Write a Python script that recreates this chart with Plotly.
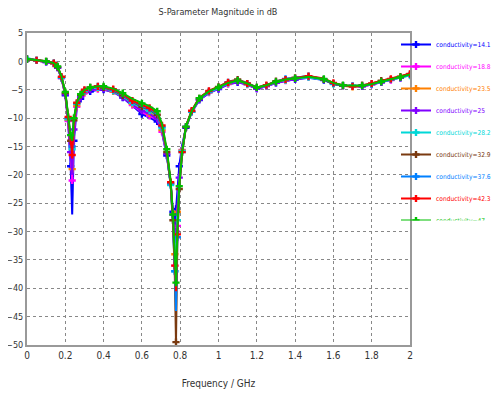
import plotly.graph_objects as go

freq = [0, 0.05, 0.1, 0.14, 0.16, 0.18, 0.2, 0.215, 0.228, 0.236, 0.245, 0.26, 0.28, 0.3,
        0.33, 0.37, 0.4, 0.45, 0.5, 0.55, 0.6, 0.64, 0.68, 0.705, 0.73, 0.75, 0.762, 0.772,
        0.778, 0.785, 0.795, 0.81, 0.83, 0.86, 0.9, 0.95, 1.0, 1.05, 1.1, 1.15, 1.2, 1.25,
        1.3, 1.35, 1.4, 1.47, 1.55, 1.6, 1.65, 1.7, 1.75, 1.8, 1.85, 1.9, 1.95, 2.0]

s_14_1 = [0.4,0.2,-0.1,-0.4,-1.1,-3.0,-6.0,-10.8,-18.5,-27.0,-14.0,-8.2,-6.6,-5.8,-5.3,-5.0,-5.0,-5.4,-6.4,-7.8,-9.3,-9.9,-10.6,-12.6,-16.6,-21.5,-26.5,-29.0,-26.0,-22.0,-18.5,-14.8,-11.7,-9.0,-6.8,-5.6,-4.9,-4.1,-3.7,-4.1,-4.8,-4.4,-3.8,-3.4,-3.2,-2.9,-3.3,-3.9,-4.3,-4.4,-4.4,-4.1,-3.7,-3.3,-2.9,-2.4]
s_18_8 = [0.4,0.2,-0.1,-0.4,-1.1,-3.0,-5.9,-10.5,-17.0,-21.0,-12.6,-8.0,-6.4,-5.6,-5.1,-4.9,-4.9,-5.3,-6.3,-7.7,-9.0,-9.6,-10.3,-12.4,-16.4,-21.4,-28.0,-36.0,-40.0,-29.0,-21.0,-15.6,-11.6,-8.9,-6.7,-5.5,-4.8,-4.0,-3.6,-4.1,-4.8,-4.4,-3.8,-3.4,-3.1,-2.8,-3.2,-3.9,-4.3,-4.4,-4.4,-4.1,-3.7,-3.3,-2.9,-2.4]
s_23_5 = [0.4,0.2,-0.1,-0.4,-1.1,-2.9,-5.8,-10.3,-15.5,-19.0,-11.6,-7.8,-6.2,-5.4,-4.9,-4.7,-4.8,-5.3,-6.2,-7.5,-8.6,-9.2,-10.0,-12.1,-16.2,-21.6,-27.5,-34.0,-31.0,-26.5,-21.0,-15.7,-11.5,-8.9,-6.6,-5.4,-4.7,-3.9,-3.5,-4.0,-4.7,-4.3,-3.7,-3.3,-3.0,-2.7,-3.1,-3.9,-4.3,-4.5,-4.4,-4.0,-3.6,-3.2,-2.8,-2.3]
s_25 = [0.4,0.2,-0.1,-0.4,-1.1,-2.9,-5.8,-10.4,-16.0,-20.0,-12.0,-7.9,-6.3,-5.5,-5.0,-4.8,-4.8,-5.3,-6.3,-7.6,-8.7,-9.3,-10.1,-12.2,-16.3,-21.6,-27.0,-32.0,-30.0,-26.0,-20.5,-15.5,-11.5,-8.9,-6.7,-5.5,-4.8,-4.0,-3.6,-4.1,-4.8,-4.4,-3.8,-3.4,-3.1,-2.8,-3.2,-3.9,-4.3,-4.4,-4.4,-4.1,-3.7,-3.3,-2.9,-2.4]
s_28_2 = [0.6,0.2,0.0,-0.3,-1.1,-2.9,-5.7,-10.2,-14.2,-15.5,-10.6,-7.5,-6.0,-5.2,-4.7,-4.6,-4.7,-5.2,-6.2,-7.3,-8.2,-8.7,-9.6,-11.8,-16.2,-21.8,-28.5,-37.0,-33.0,-28.0,-21.5,-15.8,-11.4,-8.9,-6.6,-5.4,-4.7,-3.8,-3.4,-4.0,-4.7,-4.3,-3.7,-3.3,-3.0,-2.8,-3.3,-4.0,-4.3,-4.4,-4.3,-4.0,-3.6,-3.2,-2.8,-2.5]
s_32_9 = [0.4,0.2,0.0,-0.3,-1.0,-2.8,-5.6,-10.0,-14.0,-15.0,-10.4,-7.4,-5.9,-5.1,-4.6,-4.4,-4.6,-5.1,-6.0,-7.1,-8.0,-8.5,-9.4,-11.6,-16.0,-21.5,-28.0,-38.0,-49.5,-32.0,-22.5,-16.2,-11.6,-8.8,-6.5,-5.2,-4.5,-3.6,-3.2,-3.8,-4.6,-4.2,-3.5,-3.1,-2.9,-2.6,-3.2,-4.0,-4.3,-4.4,-4.2,-3.9,-3.4,-3.1,-2.7,-2.1]
s_37_6 = [0.5,0.2,0.0,-0.3,-1.0,-2.8,-5.6,-10.0,-14.0,-15.0,-10.3,-7.4,-5.9,-5.1,-4.6,-4.4,-4.5,-5.0,-5.9,-7.0,-7.9,-8.4,-9.3,-11.5,-16.0,-21.5,-28.0,-37.0,-44.0,-31.0,-22.0,-16.0,-11.5,-8.8,-6.5,-5.3,-4.6,-3.7,-3.3,-3.9,-4.6,-4.3,-3.6,-3.1,-2.9,-2.6,-3.1,-3.9,-4.3,-4.3,-4.3,-4.0,-3.6,-3.2,-2.8,-2.3]
s_42_3 = [0.4,0.2,0.0,-0.3,-1.0,-2.7,-5.5,-9.8,-14.0,-16.5,-10.5,-7.3,-5.8,-5.0,-4.5,-4.4,-4.5,-4.9,-5.8,-6.9,-7.7,-8.2,-9.1,-11.3,-15.8,-21.3,-27.5,-36.0,-40.5,-30.5,-22.0,-16.0,-11.4,-8.7,-6.4,-5.2,-4.5,-3.7,-3.3,-3.9,-4.6,-4.2,-3.6,-3.2,-2.9,-2.6,-3.0,-3.8,-4.2,-4.4,-4.3,-3.9,-3.5,-3.1,-2.7,-2.2]
s_47 = [0.4,0.2,0.0,-0.3,-0.9,-2.6,-5.4,-9.5,-13.0,-14.0,-10.0,-7.2,-5.8,-5.0,-4.6,-4.4,-4.4,-4.8,-5.6,-6.6,-7.4,-7.9,-8.8,-11.0,-15.5,-21.0,-27.0,-35.0,-39.0,-30.0,-22.0,-16.0,-11.5,-8.8,-6.5,-5.3,-4.6,-3.8,-3.4,-3.9,-4.6,-4.2,-3.6,-3.2,-3.0,-2.7,-3.1,-3.8,-4.2,-4.3,-4.3,-4.0,-3.6,-3.2,-2.8,-2.3]

names = ["conductivity=14.1", "conductivity=18.8", "conductivity=23.5", "conductivity=25",
         "conductivity=28.2", "conductivity=32.9", "conductivity=37.6", "conductivity=42.3",
         "conductivity=47"]
series = [s_14_1, s_18_8, s_23_5, s_25, s_28_2, s_32_9, s_37_6, s_42_3, s_47]
colors = ["#0000ff", "#ff00ff", "#ff8000", "#8000ff", "#00d8d8", "#7a3a10", "#0080ff",
          "#ff0000", "#00c000"]

x_ticks = [0, 0.2, 0.4, 0.6, 0.8, 1, 1.2, 1.4, 1.6, 1.8, 2]
x_tick_labels = ["0", "0.2", "0.4", "0.6", "0.8", "1", "1.2", "1.4", "1.6", "1.8", "2"]
y_ticks = [5, 0, -5, -10, -15, -20, -25, -30, -35, -40, -45, -50]

FONT = "Liberation Sans Narrow, DejaVu Sans Condensed, sans-serif"

# page body has an 8px default margin; figure sized so the page does not overflow
W, H = 491, 381
L, R, T, B = 19, 89, 25, 44
PW, PH = W - L - R, H - T - B

fig = go.Figure()
for name, ys, c in zip(names, series, colors):
    fig.add_trace(go.Scatter(
        x=freq, y=ys, mode="lines+markers",
        name=f'<span style="color:{c}">{name}</span>',
        line=dict(color=c, width=2),
        marker=dict(symbol="cross", size=6, color=c, maxdisplayed=28),
        legendgroup=name,
    ))

fig.update_layout(
    width=W, height=H,
    margin=dict(l=L, r=R, t=T, b=B, autoexpand=False),
    paper_bgcolor="white", plot_bgcolor="white",
    font=dict(family=FONT, size=9, color="#333333"),
    title=dict(text="S-Parameter Magnitude in dB", x=210 / W, xanchor="center",
               xref="container", y=1 - 4 / H, yref="container", yanchor="middle",
               font=dict(family=FONT, size=9, color="#333333")),
    showlegend=True,
    legend=dict(xref="paper", yref="paper", x=(388 - L) / PW, xanchor="left",
                y=1 + (T - 22) / PH, yanchor="top",
                font=dict(family=FONT, size=6.6), bgcolor="rgba(0,0,0,0)",
                tracegroupgap=3, itemwidth=30),
    xaxis=dict(range=[0, 2], tickvals=x_ticks, ticktext=x_tick_labels, automargin=False,
               showgrid=True, gridcolor="#888888", griddash="dot", gridwidth=1,
               showline=True, linecolor="#999999", linewidth=2, mirror=True,
               zeroline=False, ticks="", tickfont=dict(size=10),
               title=dict(text="Frequency / GHz", font=dict(size=10), standoff=21)),
    yaxis=dict(range=[-50, 5], tickvals=y_ticks, automargin=False,
               showgrid=True, gridcolor="#888888", griddash="dot", gridwidth=1,
               showline=True, linecolor="#999999", linewidth=2, mirror=True,
               zeroline=False, ticks="", tickfont=dict(size=9)),
)

fig.write_html("out.html")
